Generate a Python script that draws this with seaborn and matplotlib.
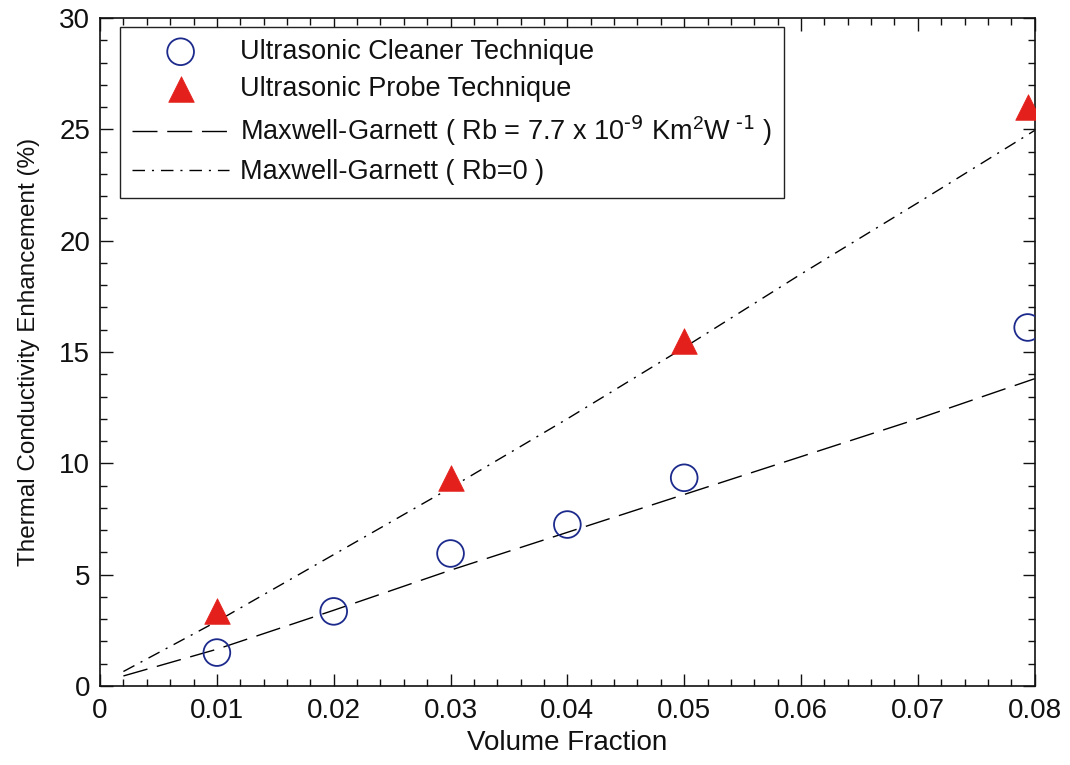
import pandas as pd
import numpy as np
import matplotlib
matplotlib.use('Agg')
import matplotlib.pyplot as plt
import seaborn as sns
from matplotlib.ticker import AutoMinorLocator, MultipleLocator

# measured points
cleaner_x = [0.01, 0.02, 0.03, 0.04, 0.05, 0.0794]
cleaner_y = [1.5, 3.35, 5.95, 7.25, 9.35, 16.1]
probe_x = [0.01, 0.03, 0.05, 0.0794]
probe_y = [3.35, 9.35, 15.5, 26.0]

# Maxwell-Garnett model curves
mg_x = [0.002, 0.01, 0.02, 0.03, 0.04, 0.05, 0.06, 0.07, 0.08]
mg_rb_y = [0.45, 1.65, 3.4, 5.2, 6.9, 8.6, 10.3, 12.0, 13.8]
mg_zero_y = [0.65, 2.9, 5.9, 8.9, 12.0, 15.2, 18.5, 21.7, 24.95]

sns.set_style('ticks')
plt.rcParams['font.family'] = ['Liberation Sans', 'DejaVu Sans']
plt.rcParams['mathtext.default'] = 'regular'
for k in ['text.color', 'axes.labelcolor', 'xtick.color', 'ytick.color', 'axes.edgecolor']:
    plt.rcParams[k] = '#111111'

cleaner = pd.DataFrame({'x': cleaner_x, 'y': cleaner_y})
probe = pd.DataFrame({'x': probe_x, 'y': probe_y})
mg = pd.DataFrame({'x': mg_x, 'rb': mg_rb_y, 'zero': mg_zero_y})

fig = plt.figure(figsize=(10.7, 7.65), dpi=100)
ax = fig.add_axes([0.0935, 0.1033, 0.8735, 0.8732])

sns.scatterplot(data=cleaner, x='x', y='y', ax=ax, marker='o', s=370,
                facecolor='none', edgecolor='#1c2a8c', linewidth=1.3,
                label='Ultrasonic Cleaner Technique', zorder=3)
sns.scatterplot(data=probe, x='x', y='y', ax=ax, marker='^', s=340,
                color='#e3201b', edgecolor='#e3201b', linewidth=0.5,
                label='Ultrasonic Probe Technique', zorder=3)
sns.lineplot(data=mg, x='x', y='rb', ax=ax, color='black', linewidth=1.0,
             label=r'Maxwell-Garnett ( Rb = 7.7 x 10$^{\text{-9}}$ Km$^2$W$^{\text{ -1}}$ )', zorder=2)
sns.lineplot(data=mg, x='x', y='zero', ax=ax, color='black', linewidth=1.0,
             label='Maxwell-Garnett ( Rb=0 )', zorder=2)
ax.lines[0].set_dashes([18, 7])
ax.lines[1].set_dashes([9, 5, 1.5, 5])

ax.set_xlim(0, 0.08)
ax.set_ylim(0, 30)
ax.xaxis.set_major_locator(MultipleLocator(0.01))
ax.yaxis.set_major_locator(MultipleLocator(5))
ax.xaxis.set_minor_locator(AutoMinorLocator(5))
ax.yaxis.set_minor_locator(AutoMinorLocator(5))
ax.set_xticks(np.arange(0, 0.081, 0.01))
ax.set_xticklabels(['0', '0.01', '0.02', '0.03', '0.04', '0.05', '0.06', '0.07', '0.08'])
ax.tick_params(which='both', direction='in', top=True, right=True, labelsize=20)
ax.tick_params(which='major', length=9, width=1)
ax.tick_params(which='minor', length=5, width=1)
ax.tick_params(axis='x', pad=9)
ax.tick_params(axis='y', pad=7)
for s in ax.spines.values():
    s.set_linewidth(1.2)

ax.set_xlabel('Volume Fraction', fontsize=20, labelpad=4)
ax.set_ylabel('Thermal Conductivity Enhancement (%)', fontsize=17.5, labelpad=14)

leg = ax.legend(loc='upper left', bbox_to_anchor=(0.021, 0.987), fontsize=19.5,
                frameon=True, fancybox=False, framealpha=1, edgecolor='#222222',
                handlelength=3.6, handletextpad=0.4, borderpad=0.45, labelspacing=0.42,
                borderaxespad=0)
leg.get_frame().set_linewidth(1.0)

fig.savefig('out.png', dpi=100)
